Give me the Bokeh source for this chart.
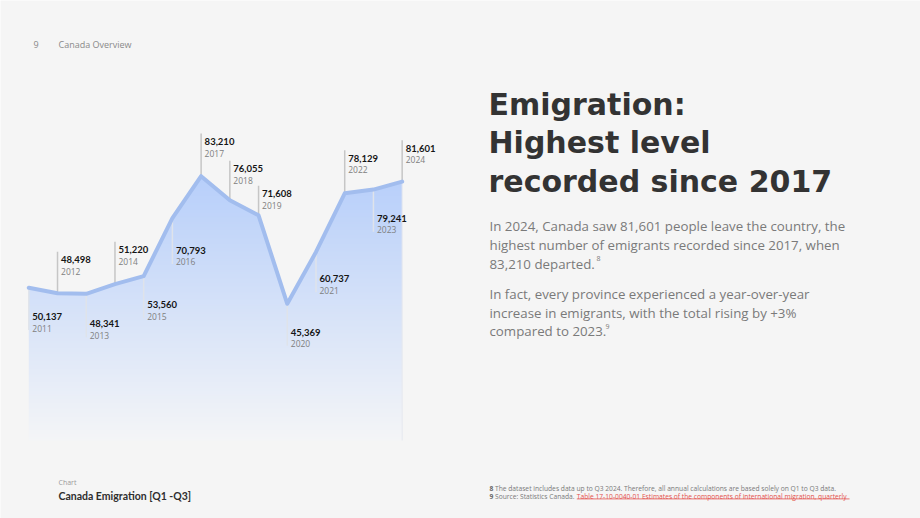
import numpy as np
from bokeh.plotting import figure
from bokeh.models import Range1d
from bokeh.embed import file_html
from bokeh.resources import INLINE
from bokeh.core.properties import value

# ---------------- data ----------------
years = [2011, 2012, 2013, 2014, 2015, 2016, 2017, 2018, 2019, 2020, 2021, 2022, 2023, 2024]
emigrants = [50137, 48498, 48341, 51220, 53560, 70793, 83210, 76055, 71608, 45369, 60737, 78129, 79241, 81601]
value_labels = ["50,137", "48,498", "48,341", "51,220", "53,560", "70,793", "83,210",
                "76,055", "71,608", "45,369", "60,737", "78,129", "79,241", "81,601"]
year_labels = [str(y) for y in years]

# ---------------- layout / style ----------------
W, H = 920, 518
BG = "#f5f5f5"
PX_PER_UNIT = 0.003372     # vertical scale (px per person)
ZERO_PX = 456.3            # screen y of value 0
X0_PX = 28.3               # screen x of first year
PX_PER_YEAR = 28.72
# label baseline offset from its point in px (positive = below the point)
label_dy = [28.8, -33.5, 30.0, -34.3, 28.6, 32.4, -34.7, -31.5, -21.6, 28.4, 26.8, -35.1, 28.6, -33.5]

p = figure(width=W, height=H,
           x_range=Range1d(years[0] - X0_PX / PX_PER_YEAR, years[0] + (W - X0_PX) / PX_PER_YEAR),
           y_range=Range1d((ZERO_PX - H) / PX_PER_UNIT, ZERO_PX / PX_PER_UNIT),
           output_backend="svg", toolbar_location=None, min_border=0,
           x_axis_location=None, y_axis_location=None)
p.extra_x_ranges = {"px": Range1d(0, W)}
p.extra_y_ranges = {"px": Range1d(H, 0)}
p.grid.visible = False
p.outline_line_color = None
p.background_fill_color = BG
p.border_fill_color = BG

# ---------------- gradient area ----------------
fill_bottom = (ZERO_PX - 440) / PX_PER_UNIT
fill_top = max(emigrants) + 1500
n = 220
t = np.linspace(0, 1, n)
c_bot = np.array([244, 245, 247])
c_top = np.array([182, 206, 250])
img = np.zeros((n, 1), dtype=np.uint32)
view = img.view(dtype=np.uint8).reshape((n, 1, 4))
for i in range(n):
    c = c_bot + (c_top - c_bot) * t[i]
    view[i, 0, 0:3] = np.round(c).astype(np.uint8)
    view[i, 0, 3] = 255
p.image_rgba(image=[img], x=years[0], y=fill_bottom, dw=years[-1] - years[0], dh=fill_top - fill_bottom)

# mask above the line (slightly wider than the area so the image edges are hidden)
pad = 0.15
mask_top = fill_top + 3000
p.patch(x=years + [years[-1] + pad, years[-1] + pad, years[0] - pad, years[0] - pad],
        y=emigrants + [emigrants[-1], mask_top, mask_top, emigrants[0]],
        fill_color=BG, line_color=None)

# faint right edge of the area
p.segment(x0=[years[-1]], y0=[fill_bottom], x1=[years[-1]], y1=[emigrants[-1]],
          line_color="#e6e8ee", line_width=1)

# ---------------- leader lines ----------------
above_x, above_y0, above_y1 = [], [], []
below_x, below_y0, below_y1 = [], [], []
for yr, v, dy in zip(years, emigrants, label_dy):
    if dy < 0:
        above_x.append(yr); above_y0.append(v); above_y1.append(v + (-dy + 8) / PX_PER_UNIT)
    else:
        below_x.append(yr); below_y0.append(v); below_y1.append(v - (dy + 13.5) / PX_PER_UNIT)
p.segment(x0=above_x, y0=above_y0, x1=above_x, y1=above_y1, line_color="#c6c6c6", line_width=1.5)
p.segment(x0=below_x, y0=below_y0, x1=below_x, y1=below_y1, line_color="#dfe3ea", line_width=1.5)

# ---------------- line ----------------
p.line(years, emigrants, line_color="#a2bdee", line_width=4, line_join="round", line_cap="round")

# ---------------- labels ----------------
lx = [yr + 3.5 / PX_PER_YEAR for yr in years]
vy = [v - dy / PX_PER_UNIT for v, dy in zip(emigrants, label_dy)]
yy = [v - (dy + 11.5) / PX_PER_UNIT for v, dy in zip(emigrants, label_dy)]
p.text(x=lx, y=vy, text=value_labels, text_font=value("Lato"), text_font_size="9.5px",
       text_font_style="bold", text_color="#151515", text_baseline="alphabetic")
p.text(x=lx, y=yy, text=year_labels, text_font=value("Open Sans"), text_font_size="8.5px",
       text_color="#808080", text_baseline="alphabetic")


# ---------------- page texts ----------------
def txt(x, y, s, size, color, font="Open Sans", style="normal"):
    p.text(x=[x], y=[y], text=[s], text_font=value(font), text_font_size=f"{size}px",
           text_font_style=style, text_color=color, text_baseline="alphabetic",
           x_range_name="px", y_range_name="px")


txt(33, 44, "9", 9, "#8a8a8a")
txt(58, 44, "Canada Overview", 9, "#8a8a8a")

title_lines = ["Emigration:", "Highest level", "recorded since 2017"]
for i, s in enumerate(title_lines):
    txt(488, 103.5 + i * 38.5, s, 30, "#333333", font="DejaVu Sans", style="bold")

para1 = ["In 2024, Canada saw 81,601 people leave the country, the",
         "highest number of emigrants recorded since 2017, when",
         "83,210 departed."]
para2 = ["In fact, every province experienced a year-over-year",
         "increase in emigrants, with the total rising by +3%",
         "compared to 2023."]
for i, s in enumerate(para1):
    txt(489, 225.7 + i * 18.8, s, 13.3, "#7a7a7a")
for i, s in enumerate(para2):
    txt(489, 293.3 + i * 18.8, s, 13.3, "#7a7a7a")
txt(596, 258, "8", 7, "#7a7a7a")
txt(605, 326, "9", 7, "#7a7a7a")

txt(58, 482, "Chart", 7, "#9a9a9a")
txt(58, 495.5, "Canada Emigration [Q1 -Q3]", 10.5, "#2e2e2e", font="Lato", style="bold")

txt(489, 487.5, "8", 6.7, "#666666", style="bold")
txt(494.5, 487.5, "The dataset includes data up to Q3 2024. Therefore, all annual calculations are based solely on Q1 to Q3 data.", 6.7, "#7a7a7a")
txt(489, 495.5, "9", 6.7, "#666666", style="bold")
txt(494.5, 495.5, "Source: Statistics Canada.", 6.7, "#7a7a7a")
txt(576.3, 495.5, "Table 17-10-0040-01  Estimates of the components of international migration, quarterly", 6.7, "#e4524d")
p.segment(x0=[576.3], y0=[498.4], x1=[849], y1=[498.4], line_color="#e4524d", line_width=0.8,
          x_range_name="px", y_range_name="px")

open("out.html", "w").write(file_html(p, INLINE))
